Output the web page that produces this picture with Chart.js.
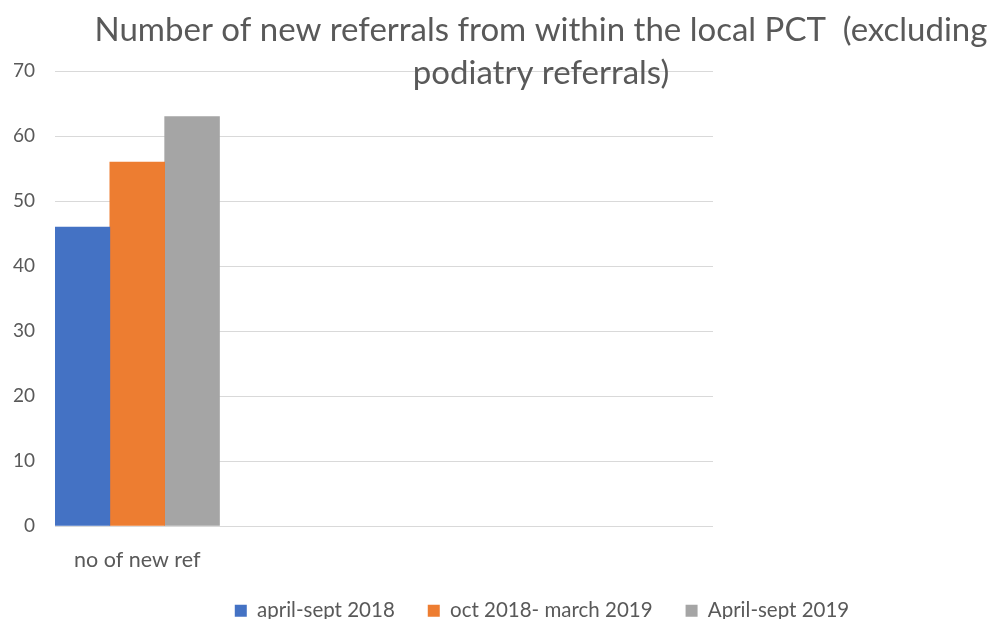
<!DOCTYPE html>
<html>
<head>
<meta charset="utf-8">
<title>New referrals</title>
<script src="https://cdn.jsdelivr.net/npm/chart.js@4"></script>
<style>
  html, body { margin: 0; padding: 0; background: #fff; overflow: hidden; }
  #wrap { position: absolute; left: 0; top: 0; width: 1084px; height: 631px; }
</style>
</head>
<body>
<div id="wrap"><canvas id="refChart" width="1084" height="631"></canvas></div>
<script>
const categories = ['no of new ref', '', '', ''];
const seriesNames = ['april-sept 2018', 'oct 2018- march 2019', 'April-sept 2019'];
const aprSept2018 = [46];
const oct2018Mar2019 = [56];
const aprSept2019 = [63];
const titleLines = ['Number of new referrals from within the local PCT  (excluding', 'podiatry referrals)'];

const textGrey = '#595959';
const font = 'Lato';

// title sits on top of the plot, so it is drawn by hand instead of the title plugin
const overlayTitle = {
    id: 'overlayTitle',
    afterDraw(chart) {
        const ctx = chart.ctx;
        ctx.save();
        ctx.font = '33px ' + font;
        ctx.fillStyle = textGrey;
        ctx.textAlign = 'center';
        ctx.textBaseline = 'alphabetic';
        ctx.fillText(titleLines[0], 541, 41);
        ctx.fillText(titleLines[1], 541, 84);
        ctx.restore();
    }
};

const refChart = new Chart(document.getElementById('refChart'), {
    type: 'bar',
    data: {
        labels: categories,
        datasets: [{
            label: seriesNames[0],
            data: aprSept2018,
            backgroundColor: '#4472C4'
        }, {
            label: seriesNames[1],
            data: oct2018Mar2019,
            backgroundColor: '#ED7D31'
        }, {
            label: seriesNames[2],
            data: aprSept2019,
            backgroundColor: '#A5A5A5'
        }]
    },
    plugins: [overlayTitle],
    options: {
        responsive: false,
        animation: false,
        devicePixelRatio: 1,
        layout: { padding: { top: 71, left: 0, right: 0, bottom: 0 } },
        datasets: {
            bar: { categoryPercentage: 1, barPercentage: 1 }
        },
        plugins: {
            tooltip: { enabled: false },
            title: { display: false },
            legend: {
                position: 'bottom',
                labels: {
                    boxWidth: 12,
                    boxHeight: 12,
                    padding: 33,
                    color: textGrey,
                    font: { family: font, size: 20.5 }
                }
            }
        },
        scales: {
            x: {
                grid: { display: false },
                border: { display: false },
                ticks: {
                    color: textGrey,
                    padding: 13,
                    maxRotation: 0,
                    font: { family: font, size: 21.5 }
                },
                afterFit(scale) { scale.height = 41.5; }
            },
            y: {
                min: 0,
                max: 70,
                grid: { color: '#D9D9D9', lineWidth: 1, drawTicks: false },
                border: { display: false },
                ticks: {
                    stepSize: 10,
                    color: textGrey,
                    padding: 20,
                    font: { family: font, size: 19 }
                },
                afterFit(scale) { scale.width = 55; }
            },
            // empty space to the right of the plot
            spacer: {
                type: 'linear',
                position: 'right',
                grid: { display: false },
                border: { display: false },
                ticks: { display: false },
                afterFit(scale) { scale.width = 371; }
            }
        }
    }
});
</script>
</body>
</html>
